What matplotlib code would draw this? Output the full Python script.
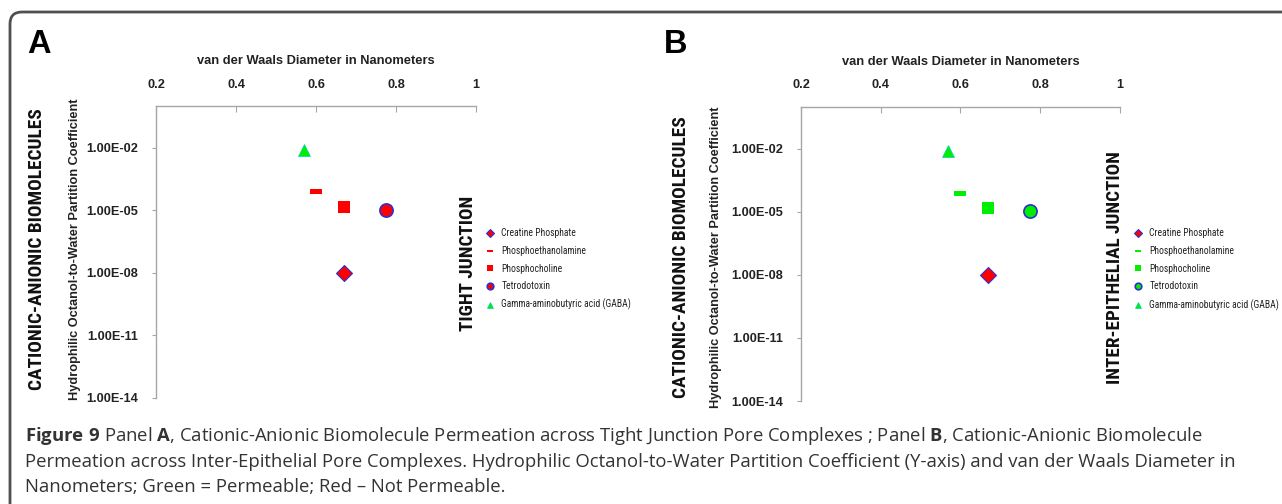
import matplotlib
matplotlib.use("Agg")
import matplotlib.pyplot as plt
from matplotlib.patches import FancyBboxPatch
from matplotlib.transforms import IdentityTransform
import matplotlib.ticker as mticker

# molecules, van der Waals diameter (nm) and octanol/water partition coefficient
names = ["Creatine Phosphate", "Phosphoethanolamine", "Phosphocholine",
         "Tetrodotoxin", "Gamma-aminobutyric acid (GABA)"]
diameter = [0.67, 0.60, 0.67, 0.775, 0.57]
partition = [1.0e-8, 8.0e-5, 1.5e-5, 1.05e-5, 8.0e-3]

# permeable (green) / not permeable (red) for each pore type
colors_tight = ["#ff0000", "#ff0000", "#ff0000", "#ff0000", "#00ee00"]
colors_epith = ["#ff0000", "#00ee00", "#00ee00", "#00ee00", "#00ee00"]

xticks = [0.2, 0.4, 0.6, 0.8, 1.0]
xticklabels = ["0.2", "0.4", "0.6", "0.8", "1"]
yticks = [1e-14, 1e-11, 1e-8, 1e-5, 1e-2]

rect = [(-1, -0.45), (1, -0.45), (1, 0.45), (-1, 0.45), (-1, -0.45)]
markers = ["D", rect, "s", "o", "^"]
sizes = [8.0, 8.0, 8.0, 9.5, 8.0]
edges = ["#3030d0", "none", "none", "#3030d0", "#00d0c0"]
edgew = [0.8, 0, 0, 1.2, 0.5]

BOLD = "Liberation Sans"
COND = ["Roboto Condensed", "DejaVu Sans"]
GRAY = "#a6a6a6"

plt.rcParams["mathtext.fontset"] = "custom"
plt.rcParams["mathtext.rm"] = "Open Sans"
plt.rcParams["mathtext.bf"] = "Open Sans:bold"

W, H = 1282, 504
fig = plt.figure(figsize=(W / 100, H / 100), dpi=100)
px = IdentityTransform()


def panel(left, right, top, bottom, colors, side_label, side_x, side_y,
          leg_x, leg_y, lab_x1, lab_x2, lab_y, letter, letter_x, xlab_y):
    ax = fig.add_axes([left / W, 1 - bottom / H, (right - left) / W, (bottom - top) / H])
    for i in range(len(names)):
        ax.plot([diameter[i]], [partition[i]], ls="none", marker=markers[i],
                ms=sizes[i], mfc=colors[i], mec=edges[i] if edges[i] != "none" else colors[i],
                mew=edgew[i], label=names[i])
    ax.set_yscale("log")
    ax.set_xlim(0.2, 1.0)
    ax.set_ylim(1e-14, 1.0)
    for s in ["bottom", "right"]:
        ax.spines[s].set_visible(False)
    for s in ["top", "left"]:
        ax.spines[s].set_color(GRAY)
        ax.spines[s].set_linewidth(1.0)
    ax.xaxis.tick_top()
    ax.set_xticks(xticks)
    ax.set_xticklabels(xticklabels)
    ax.set_yticks(yticks)
    ax.yaxis.set_major_formatter(mticker.FuncFormatter(lambda v, p: "%.2E" % v))
    ax.yaxis.set_minor_locator(mticker.NullLocator())
    ax.tick_params(axis="x", direction="in", length=4, color=GRAY, pad=11)
    ax.tick_params(axis="y", direction="out", length=3, color=GRAY, pad=10)
    for t in ax.get_xticklabels() + ax.get_yticklabels():
        t.set_fontfamily(BOLD)
        t.set_fontweight("bold")
        t.set_fontsize(9.2)
        t.set_color("#222222")

    leg = ax.legend(loc="center left", bbox_to_anchor=(leg_x, leg_y), frameon=False,
                    prop={"family": COND, "size": 6.9, "stretch": "condensed"},
                    markerscale=0.5, handlelength=1.05, handletextpad=0.65,
                    labelspacing=0.8, borderpad=0, borderaxespad=0)
    for t in leg.get_texts():
        t.set_color("#222222")

    # axis titles
    fig.text((left + right) / 2, H - xlab_y, "van der Waals Diameter in Nanometers",
             transform=px, ha="center", va="center", family=BOLD, weight="bold",
             size=9.3, color="#222222")
    fig.text(lab_x2, H - lab_y, "Hydrophilic Octanol-to-Water Partition Coefficient",
             transform=px, ha="center", va="center", rotation=90, family=BOLD,
             weight="bold", size=9.2, color="#222222")
    fig.text(lab_x1, H - lab_y, "CATIONIC-ANIONIC BIOMOLECULES",
             transform=px, ha="center", va="center", rotation=90, family=COND,
             stretch="condensed", weight="bold", size=13.9, color="#111111")
    fig.text(side_x, H - side_y, side_label, transform=px, ha="center", va="center",
             rotation=90, family=COND, stretch="condensed", weight="bold",
             size=13.8, color="#111111")
    fig.text(letter_x, H - 53, letter, transform=px, ha="left", va="baseline",
             family=BOLD, weight="bold", size=23.5, color="#000000")
    return ax


panel(156, 476, 106, 397.7, colors_tight, "TIGHT JUNCTION", 468, 263,
      1.028, 0.44, 37.5, 74.7, 249, "A", 27, 60.7)
panel(801.2, 1119.6, 106.7, 401, colors_epith, "INTER-EPITHELIAL JUNCTION", 1115, 268,
      1.042, 0.447, 681, 715.5, 257.5, "B", 664, 61.7)

# rounded frame around the figure
frame = FancyBboxPatch((10, -60), 1400, H - 12 + 60, boxstyle="round,pad=0,rounding_size=12",
                       transform=px, fill=False, ec="#505050", lw=2.0)
fig.add_artist(frame)

caption = [
    r"$\mathbf{Figure\ 9}$ Panel $\mathbf{A}$, Cationic-Anionic Biomolecule Permeation across "
    r"Tight Junction Pore Complexes ; Panel $\mathbf{B}$, Cationic-Anionic Biomolecule",
    "Permeation across Inter-Epithelial Pore Complexes. Hydrophilic Octanol-to-Water "
    "Partition Coefficient (Y-axis) and van der Waals Diameter in",
    "Nanometers; Green = Permeable; Red \u2013 Not Permeable.",
]
for i, line in enumerate(caption):
    fig.text(25, H - (441 + 25.6 * i), line, transform=px, ha="left", va="baseline",
             family="Open Sans", size=13.3, color="#333333")

fig.savefig("out.png", dpi=100)
